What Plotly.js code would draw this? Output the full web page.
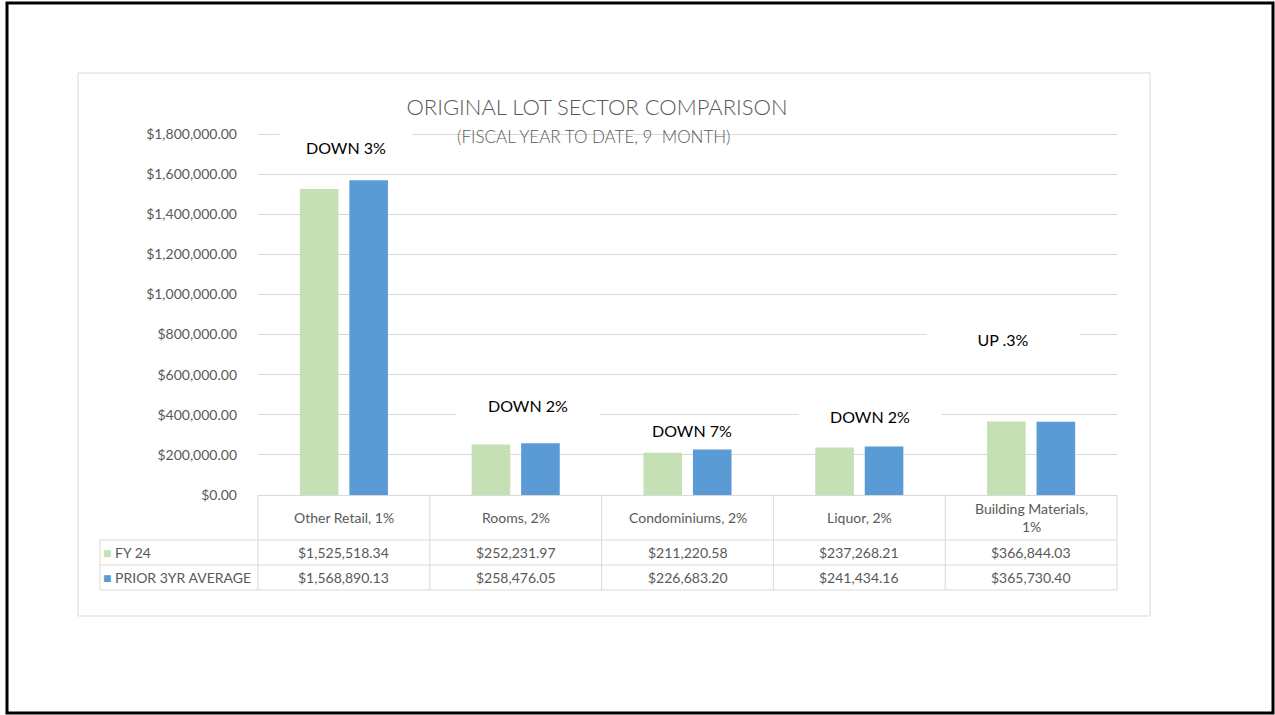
<!DOCTYPE html>
<html>
<head>
<meta charset="utf-8">
<script src="https://cdn.plot.ly/plotly-3.0.1.min.js"></script>
<style>html,body{margin:0;padding:0;background:#fff;}#chart{width:1275px;height:715px;}</style>
</head>
<body>
<div id="chart"></div>
<script>
// ---- data ----
const categories = ["Other Retail, 1%", "Rooms, 2%", "Condominiums, 2%", "Liquor, 2%", "Building Materials, 1%"];
const headerLabels = ["Other Retail, 1%", "Rooms, 2%", "Condominiums, 2%", "Liquor, 2%", "Building Materials,<br>1%"];
const seriesNames = ["FY 24", "PRIOR 3YR AVERAGE"];
const fy24 = [1525518.34, 252231.97, 211220.58, 237268.21, 366844.03];
const prior3yr = [1568890.13, 258476.05, 226683.20, 241434.16, 365730.40];
const changeLabels = ["DOWN 3%", "DOWN 2%", "DOWN 7%", "DOWN 2%", "UP .3%"];
const titleText = "ORIGINAL LOT SECTOR COMPARISON";
const subtitleText = "(FISCAL YEAR TO DATE, 9\u00a0 MONTH)";
const yTickStep = 200000;
const yMax = 1800000;

// ---- styling / layout helpers ----
const W = 1275, H = 715;
const PL = 258, PR = 1117, PB = 495;
const GRID_TOP = 134;       // pixel row of the top gridline
const PT = 126;             // plot area top (a little above the top gridline)
const yTop = yMax * (PB - PT) / (PB - GRID_TOP);
const X = px => (px - PL) / (PR - PL);
const Y = py => (PB - py) / (PB - PT);
const colors = ["#C5E0B4", "#5B9BD5"];
const FONT = "Lato, 'Open Sans', sans-serif";
const gray = "#595959";
const lineCol = "#d9d9d9";
const fmt = v => "$" + v.toLocaleString("en-US", {minimumFractionDigits: 2, maximumFractionDigits: 2});

const traces = [fy24, prior3yr].map((vals, i) => ({
  type: "bar",
  x: categories,
  y: vals,
  name: seriesNames[i],
  marker: {color: colors[i]},
  hoverinfo: "x+y+name"
}));

const shapes = [];
const annotations = [];

// outer slide frame
shapes.push({type: "rect", xref: "paper", yref: "paper", x0: X(7), x1: X(1273), y0: Y(3), y1: Y(713), line: {color: "#000", width: 3}});
// chart area frame
shapes.push({type: "rect", xref: "paper", yref: "paper", x0: X(78), x1: X(1150), y0: Y(73), y1: Y(616), line: {color: lineCol, width: 1}});

// data table geometry
const n = categories.length;
const colW = (PR - PL) / n;
const rowTops = [495, 540, 565, 590];
const legendLeft = 100;
[540, 565, 590].forEach(py => shapes.push({type: "line", xref: "paper", yref: "paper", x0: X(legendLeft), x1: X(PR), y0: Y(py), y1: Y(py), line: {color: lineCol, width: 1}}));
shapes.push({type: "line", xref: "paper", yref: "paper", x0: X(legendLeft), x1: X(legendLeft), y0: Y(540), y1: Y(590), line: {color: lineCol, width: 1}});
for (let i = 0; i <= n; i++) {
  const px = PL + i * colW;
  shapes.push({type: "line", xref: "paper", yref: "paper", x0: X(px), x1: X(px), y0: Y(495), y1: Y(590), line: {color: lineCol, width: 1}});
}

// header cells
headerLabels.forEach((lab, i) => {
  annotations.push({xref: "paper", yref: "paper", x: X(PL + (i + 0.5) * colW), y: Y(517), text: lab, showarrow: false,
    xanchor: "center", yanchor: "middle", font: {family: FONT, size: 14, color: gray}});
});
// value rows
[fy24, prior3yr].forEach((vals, r) => {
  const cy = (rowTops[r + 1] + rowTops[r + 2]) / 2;
  vals.forEach((v, i) => {
    annotations.push({xref: "paper", yref: "paper", x: X(PL + (i + 0.5) * colW), y: Y(cy), text: fmt(v), showarrow: false,
      xanchor: "center", yanchor: "middle", font: {family: FONT, size: 14, color: gray}});
  });
  annotations.push({xref: "paper", yref: "paper", x: X(101), y: Y(cy), showarrow: false, xanchor: "left", yanchor: "middle",
    text: "<span style='color:" + colors[r] + "'>\u25A0</span> " + seriesNames[r], font: {family: FONT, size: 14, color: gray}});
});

// change labels
const chPos = [[346, 147, 130], [528, 405, 140], [692, 430, 130], [870, 416, 140], [1003, 339, 150]];
changeLabels.forEach((t, i) => {
  annotations.push({xref: "paper", yref: "paper", x: X(chPos[i][0]), y: Y(chPos[i][1]), text: t, showarrow: false,
    xanchor: "center", yanchor: "middle", bgcolor: "#fff", width: chPos[i][2], height: 26,
    font: {family: FONT, size: 16, color: "#000"}});
});

// subtitle
annotations.push({xref: "paper", yref: "paper", x: X(594), y: Y(136), text: subtitleText, showarrow: false,
  xanchor: "center", yanchor: "middle", font: {family: FONT, size: 17, color: gray, weight: 300}});

const layout = {
  width: W, height: H,
  margin: {l: PL, r: W - PR, t: PT, b: H - PB, pad: 0},
  paper_bgcolor: "#fff", plot_bgcolor: "#fff",
  showlegend: false,
  barmode: "group",
  bargap: 0.424,
  bargroupgap: 0.22,
  title: {text: titleText, x: 597 / W, y: 1 - 107 / H, xanchor: "center", yanchor: "middle",
    font: {family: FONT, size: 22, color: gray, weight: 300}},
  xaxis: {showticklabels: false, ticks: "", showline: true, linecolor: lineCol, linewidth: 1, showgrid: false, fixedrange: true},
  yaxis: {range: [0, yTop], dtick: yTickStep, tick0: 0, tickformat: "$,.2f", showgrid: true, gridcolor: lineCol, gridwidth: 1,
    zeroline: false, showline: false, ticks: "", ticklabelstandoff: 20,
    tickfont: {family: FONT, size: 14, color: gray}, fixedrange: true},
  shapes: shapes,
  annotations: annotations,
  font: {family: FONT}
};

Plotly.newPlot("chart", traces, layout, {displayModeBar: false, staticPlot: true});
</script>
</body>
</html>
